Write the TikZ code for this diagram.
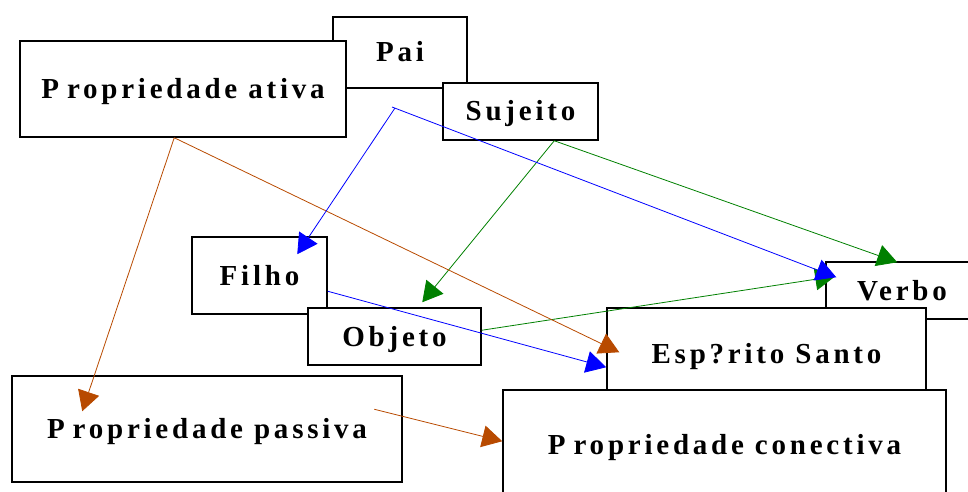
\documentclass[tikz,border=0pt]{standalone}
\usepackage{fontspec}
\setmainfont{Liberation Serif}[LetterSpace=13]
\usetikzlibrary{arrows.meta,calc}
\definecolor{rust}{RGB}{184,74,0}
\definecolor{dgreen}{RGB}{0,128,0}
\definecolor{pblue}{RGB}{0,0,255}
\tikzset{
  box/.style={draw, line width=1.5pt, fill=white, inner sep=0pt,
    font=\fontsize{29}{32}\selectfont\bfseries, text height=19pt, text depth=0pt},
  conn/.style={line width=0.8pt, -{Triangle[length=20pt,width=22pt]}}
}
\newcommand{\Pk}{P\hspace{8pt}}
\begin{document}
\begin{tikzpicture}[x=1pt,y=-1pt]
\useasboundingbox (0,0) rectangle (968,492);
\node[box, minimum width=134pt, minimum height=71pt] (pai) at (400,52.5) {Pai};
\node[box, minimum width=326pt, minimum height=96pt] (pa) at (183,89) {\Pk ropriedade ativa};
\node[box, minimum width=155pt, minimum height=57pt] (suj) at (520.5,111.5) {Sujeito};
\node[box, minimum width=135pt, minimum height=77pt] (filho) at (259.5,275.5) {Filho};
\node[box, minimum width=173pt, minimum height=57pt] (obj) at (394.5,336.5) {Objeto};
\node[box, minimum width=152pt, minimum height=57pt] (verbo) at (902,290.5) {Verbo};
\node[box, minimum width=319pt, minimum height=92pt] (es) at (766.5,354) {Esp?rito Santo};
\node[box, minimum width=443pt, minimum height=110pt] (pc) at (724.5,445) {\Pk ropriedade conectiva};
\node[box, minimum width=390pt, minimum height=106pt] (pp) at (207,429) {\Pk ropriedade passiva};
\coordinate (fork) at (395,108);
% green
\draw[conn, dgreen] ($(suj.south west)+(112,0)$) -- ($(obj.north west)+(115,-5)$);
\draw[conn, dgreen] ($(suj.south west)+(112,0)$) -- ($(verbo.north west)+(72,1)$);
\draw[conn, dgreen] ($(obj.north east)+(0,23)$) -- ($(verbo.north west)+(10,15)$);
% orange
\draw[conn, rust] ($(pa.south west)+(155,0)$) -- ($(pp.north west)+(71,36)$);
\draw[conn, rust] ($(pa.south west)+(155,0)$) -- ($(es.north west)+(13,45)$);
\draw[conn, rust] ($(pp.north west)+(363,34)$) -- ($(pc.north west)+(0,52)$);
% blue
\draw[conn, pblue] (fork) -- ($(filho.north west)+(106,18)$);
\draw[conn, pblue] ($(fork)+(-3,-1)$) -- ($(verbo.north west)+(11,16)$);
\draw[conn, pblue] ($(filho.north east)+(0,55)$) -- ($(es.north west)+(0,60)$);
\end{tikzpicture}
\end{document}
